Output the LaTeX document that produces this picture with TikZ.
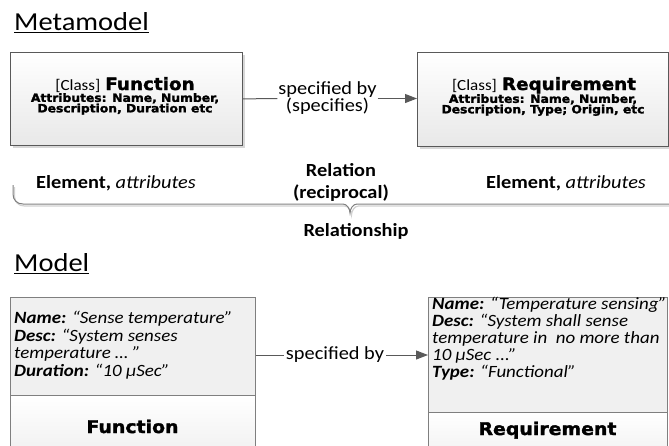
\documentclass[tikz,border=0pt]{standalone}
\usepackage{fontspec}
\setmainfont{Carlito}[FakeStretch=1.1]
\newfontfamily\heavyfont{DejaVu Sans}[FakeStretch=1.08, FakeBold=1.8]
\usetikzlibrary{shadows,arrows.meta}

\definecolor{boxedge}{HTML}{595959}
\definecolor{celledge}{HTML}{7F7F7F}
\definecolor{cellfill}{HTML}{F0F0F0}
\definecolor{wire}{HTML}{595959}

\newcommand{\fs}[2]{\fontsize{#1}{#2}\selectfont}
\newcommand{\heavy}{\heavyfont\bfseries}

\tikzset{
  title/.style={inner sep=0pt, font=\fs{25.9}{30}},
  metabox/.style={draw=boxedge, line width=0.8pt, top color=white, bottom color=black!9,
    drop shadow={shadow xshift=3pt, shadow yshift=-3pt, fill=black!35, opacity=0.45},
    inner sep=0pt, anchor=north west},
  celltop/.style={draw=celledge, line width=0.8pt, fill=cellfill, inner sep=0pt, anchor=north west},
  cellbot/.style={draw=celledge, line width=0.8pt, top color=white, bottom color=cellfill,
    inner sep=0pt, anchor=north west},
  plain/.style={inner sep=0pt, font=\fs{18.5}{21}},
  attrs/.style={inner sep=0pt, align=center, font=\heavy\fs{11.4}{10.5}},
  cell/.style={inner sep=0pt, anchor=base west, font=\fs{17.2}{18}},
  heading/.style={inner sep=0pt, anchor=base, font=\heavy\fs{17.5}{18}},
  relabel/.style={inner sep=1pt, align=center, font=\fs{18.5}{17}},
  wireline/.style={draw=wire, line width=1pt},
  wirearrow/.style={draw=wire, line width=1pt, -{Triangle[length=12pt, width=9pt]}},
}

\begin{document}
\begin{tikzpicture}[x=1pt, y=-1pt]
\useasboundingbox (0,0) rectangle (669,445);
\clip (0,0) rectangle (669,445);

% ---------- Metamodel ----------
\node[title, anchor=base west] (tmeta) at (14,30) {Metamodel};
\draw[line width=1.5pt] ([yshift=-2.5pt]tmeta.base west) -- ([yshift=-2.5pt]tmeta.base east);

\node[metabox, minimum width=232pt, minimum height=93pt] (mfun) at (10,52) {};
\node[metabox, minimum width=251pt, minimum height=94pt] (mreq) at (417,52) {};

\node[inner sep=0pt, anchor=base] (mfunhead) at (125,90)
  {{\fs{15.5}{16}[Class]}\hspace{5pt}{\heavy\fs{17}{18}Function}};
\node[attrs, anchor=north] (mfunattr) at (125,93)
  {Attributes: Name, Number,\\Description, Duration etc};

\node[inner sep=0pt, anchor=base] (mreqhead) at (544,90)
  {{\fs{15.5}{16}[Class]}\hspace{5pt}{\heavy\fs{17}{18}Requirement}};
\node[attrs, anchor=north] (mreqattr) at (543,94)
  {Attributes: Name, Number,\\Description, Type; Origin, etc};

\node[relabel] (specm) at (327.5,98.5) {specified by\\(specifies)};
\draw[wireline] (mfun.east) -- (specm.west);
\draw[wirearrow] (specm.east) -- (specm.east -| mreq.west);

% ---------- element / relation legend ----------
\node[plain, anchor=base] (elemleft) at (116,188) {\textbf{Element,} \textit{attributes}};
\node[plain, anchor=base] (elemright) at (566,188) {\textbf{Element,} \textit{attributes}};
\node[plain, anchor=base, font=\bfseries\fs{18.5}{21}] (relword) at (341,176) {Relation};
\node[plain, anchor=base, font=\bfseries\fs{18.5}{21}] (relrecip) at (341,198) {(reciprocal)};
\node[plain, anchor=base, font=\bfseries\fs{18.5}{21}] (relship) at (356,236) {Relationship};

% brace
\coordinate (braceL) at (13,185);
\coordinate (braceTip) at (350,213);
\coordinate (braceR) at (669,204);
\draw[black!18, line width=1.2pt]
  ([shift={(1.5,2)}]braceL) -- ++(0,9) .. controls +(0,6) and +(-6,0) .. (24.5,206)
  -- (344.5,206) .. controls +(4,0) and +(0,-4) .. (351.5,215)
  .. controls +(0,-4) and +(-4,0) .. (358.5,206) -- (669,206);
\draw[celledge, line width=1pt]
  (braceL) -- ++(0,9) .. controls +(0,6) and +(-6,0) .. (23,204)
  -- (343,204) .. controls +(4,0) and +(0,-4) .. (braceTip)
  .. controls +(0,-4) and +(-4,0) .. (357,204) -- (braceR);

% ---------- Model ----------
\node[title, anchor=base west] (tmodel) at (14,271) {Model};
\draw[line width=1.5pt] ([yshift=-2.5pt]tmodel.base west) -- ([yshift=-2.5pt]tmodel.base east);

\node[celltop, minimum width=245pt, minimum height=98pt] (ofun) at (10,297) {};
\node[cellbot, minimum width=245pt, minimum height=60pt] (ofunb) at (10,395) {};
\node[celltop, minimum width=239pt, minimum height=115pt] (oreq) at (428,297) {};
\node[cellbot, minimum width=239pt, minimum height=50pt] (oreqb) at (428,412) {};

\node[cell] (f1) at (14,323) {\textbf{\textit{Name:}} \textit{“Sense temperature”}};
\node[cell] (f2) at (14,341) {\textbf{\textit{Desc:}} \textit{“System senses}};
\node[cell] (f3) at (14,358.5) {\textit{temperature … ”}};
\node[cell] (f4) at (14,376) {\textbf{\textit{Duration:}} \textit{“10 µSec”}};
\node[heading] (fname) at (132.5,433) {Function};

\node[cell] (r1) at (432,309) {\textbf{\textit{Name:}} \textit{“Temperature sensing”}};
\node[cell] (r2) at (432,326) {\textbf{\textit{Desc:}} \textit{“System shall sense}};
\node[cell] (r3) at (432,343) {\textit{temperature in\ \ no more than}};
\node[cell] (r4) at (432,360) {\textit{10 µSec ...”}};
\node[cell] (r5) at (432,377) {\textbf{\textit{Type:}} \textit{“Functional”}};
\node[heading] (rname) at (547.5,435) {Requirement};

\node[plain, inner sep=2pt] (specb) at (335,355) {specified by};
\draw[wireline] (specb.west -| ofun.east) -- (specb.west);
\draw[wirearrow] (specb.east) -- (specb.east -| oreq.west);
\end{tikzpicture}
\end{document}
